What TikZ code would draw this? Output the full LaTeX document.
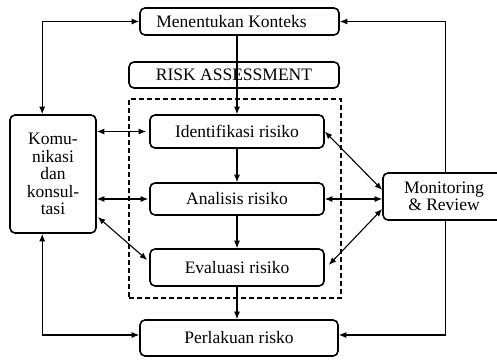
\documentclass[tikz,border=0pt]{standalone}
\usepackage{fontspec}
\setmainfont{Liberation Serif}
\usetikzlibrary{arrows.meta}
\begin{document}
\begin{tikzpicture}[x=1pt,y=-1pt,
  box/.style={draw, line width=1.6pt, rounded corners=5pt, inner sep=0pt,
    font=\fontsize{17.5}{17.5}\selectfont, align=center},
  frame/.style={draw, line width=1.4pt, dash pattern=on 5pt off 3pt, inner sep=0pt},
  tip/.tip={Latex[length=7.5pt,width=6pt]},
  link/.style={line width=1.1pt, -tip},
  both/.style={line width=1.1pt, tip-tip}]
\useasboundingbox (0,0) rectangle (497,359);
\clip (0,0) rectangle (497,359);

% process boxes
\node[box, minimum width=199pt, minimum height=27pt] (ctx) at (239.5,21.5) {Menentukan Konteks\hspace*{16pt}};
\node[box, minimum width=210pt, minimum height=26pt] (ra) at (234,75) {RISK ASSESSMENT};
\node[frame, minimum width=212pt, minimum height=199pt] (assess) at (235,198.5) {};
\node[box, minimum width=174pt, minimum height=33pt] (ident) at (237,131.5) {Identifikasi risiko};
\node[box, minimum width=174pt, minimum height=32pt] (anal) at (237,199) {Analisis risiko};
\node[box, minimum width=174pt, minimum height=37pt] (eval) at (237,267.5) {Evaluasi risiko};
\node[box, minimum width=198pt, minimum height=36pt] (treat) at (239,338) {Perlakuan risko};
\node[box, minimum width=86pt, minimum height=118pt] (kom) at (53,174) {Komu-\\nikasi\\dan\\konsul-\\tasi};
\node[box, minimum width=126pt, minimum height=47pt] (mon) at (446,196.5) {\hspace*{-4pt}Monitoring\\\hspace*{-4pt}\& Review};

% main flow
\draw[link] ([xshift=-2.5pt]ctx.south) -- (ident.north);
\draw[link] (ident.south) -- (anal.north);
\draw[link] (anal.south) -- (eval.north);
\draw[link] (eval.south) -- (eval.south |- treat.north);

% communication and consultation
\draw[both] (ctx.west) -| ([xshift=33pt]kom.north west);
\draw[both] ([xshift=33pt]kom.south west) |- ([yshift=3pt]treat.west);
\draw[both, shorten >=3pt] (ident.west -| kom.east) -- (ident.west);
\draw[both, shorten >=1pt] (anal.west -| kom.east) -- (anal.west);
\draw[both] ([xshift=1pt,yshift=-43pt]kom.east) -- ([xshift=-2pt,yshift=7.5pt]eval.west);

% monitoring and review
\draw[link] ([xshift=63pt]mon.north west) |- (ctx.east);
\draw[link] ([xshift=63pt]mon.south west) |- ([yshift=3pt]treat.east);
\draw[both] (ident.east) -- ([yshift=6.5pt]mon.west);
\draw[both] (anal.east) -- (anal.east -| mon.west);
\draw[both] ([xshift=4pt,yshift=2.5pt]eval.east) -- ([yshift=-12.5pt]mon.west);
\end{tikzpicture}
\end{document}
